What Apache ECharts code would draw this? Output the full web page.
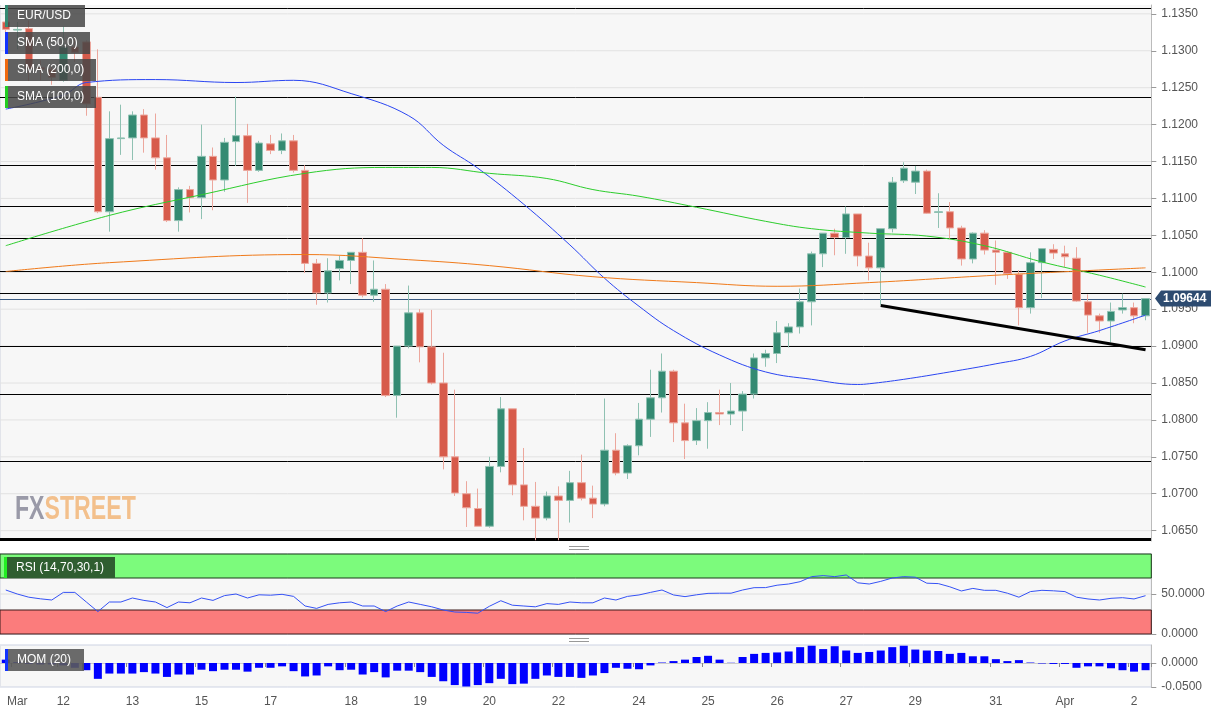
<!DOCTYPE html>
<html><head><meta charset="utf-8">
<script src="https://cdn.jsdelivr.net/npm/echarts@6/dist/echarts.min.js"></script>
<style>html,body{margin:0;padding:0;background:#fff}#c{width:1229px;height:714px}</style>
</head><body><div id="c"></div>
<script>
const opens = [1.1339,1.1328,1.1330,1.1277,1.1275,1.1260,1.1305,1.1312,1.1237,1.1082,1.1181,1.1182,1.1213,1.1182,1.1155,1.1070,1.1112,1.1101,1.1157,1.1125,1.1177,1.1185,1.1138,1.1174,1.1165,1.1178,1.1138,1.1012,1.0972,1.1005,1.1016,1.1027,1.0969,1.0977,1.0833,1.0900,1.0945,1.0899,1.0850,1.0750,1.0700,1.0680,1.0656,1.0737,1.0815,1.0712,1.0683,1.0667,1.0697,1.0691,1.0715,1.0694,1.0686,1.0759,1.0728,1.0765,1.0801,1.0830,1.0866,1.0796,1.0772,1.0799,1.0810,1.0808,1.0812,1.0835,1.0884,1.0890,1.0918,1.0926,1.0960,1.1025,1.1053,1.1047,1.1079,1.1022,1.1006,1.1059,1.1124,1.1122,1.1137,1.1081,1.1082,1.1060,1.1018,1.1053,1.1030,1.1027,1.0997,1.0952,1.1013,1.1031,1.1025,1.1019,1.0960,1.0941,1.0934,1.0949,1.0952,1.0941];
const closes = [1.1329,1.1329,1.1276,1.1275,1.1264,1.1305,1.1298,1.1228,1.1082,1.1181,1.1182,1.1213,1.1182,1.1155,1.1070,1.1112,1.1101,1.1157,1.1125,1.1176,1.1185,1.1138,1.1175,1.1165,1.1178,1.1138,1.1012,1.0972,1.1002,1.1016,1.1027,1.0969,1.0977,1.0833,1.0900,1.0945,1.0899,1.0850,1.0750,1.0701,1.0681,1.0656,1.0737,1.0815,1.0712,1.0683,1.0667,1.0697,1.0691,1.0715,1.0694,1.0686,1.0759,1.0728,1.0765,1.0801,1.0830,1.0866,1.0796,1.0772,1.0799,1.0810,1.0808,1.0812,1.0835,1.0884,1.0890,1.0918,1.0926,1.0960,1.1025,1.1053,1.1047,1.1079,1.1022,1.1006,1.1059,1.1122,1.1141,1.1137,1.1080,1.1082,1.1060,1.1018,1.1053,1.1030,1.1027,1.0998,1.0952,1.1013,1.1032,1.1026,1.1021,1.0961,1.0942,1.0934,1.0947,1.0952,1.0941,1.09644];
const lows = [1.1318,1.1302,1.1259,1.1260,1.1254,1.1258,1.1285,1.1212,1.1080,1.1055,1.1159,1.1152,1.1162,1.1139,1.1068,1.1055,1.1081,1.1072,1.1084,1.1109,1.1144,1.1094,1.1136,1.1160,1.1160,1.1135,1.0999,1.0956,1.0959,1.0989,1.0984,1.0966,1.0960,1.0831,1.0803,1.0897,1.0878,1.0848,1.0733,1.0697,1.0655,1.0656,1.0654,1.0729,1.0698,1.0664,1.0637,1.0664,1.0637,1.0661,1.0691,1.0667,1.0683,1.0725,1.0720,1.0752,1.0777,1.0810,1.0770,1.0747,1.0766,1.0761,1.0793,1.0793,1.0785,1.0829,1.0872,1.0877,1.0898,1.0917,1.0928,1.1007,1.1023,1.1025,1.1008,1.0989,1.0956,1.1054,1.1121,1.1106,1.1079,1.1060,1.1045,1.1009,1.1012,1.1024,1.0983,1.0991,1.0928,1.0944,1.0965,1.1018,1.1007,1.0960,1.0918,1.0918,1.0905,1.0944,1.0931,1.0935];
const highs = [1.1351,1.1339,1.1341,1.1287,1.1279,1.1333,1.1320,1.1314,1.1302,1.1218,1.1227,1.1218,1.1221,1.1215,1.1186,1.1115,1.1117,1.1200,1.1169,1.1182,1.1238,1.1201,1.1178,1.1186,1.1188,1.1186,1.1145,1.1018,1.1019,1.1022,1.1027,1.1046,1.1016,1.0984,1.0900,1.0982,1.0950,1.0949,1.0891,1.0841,1.0717,1.0707,1.0750,1.0831,1.0815,1.0762,1.0716,1.0703,1.0710,1.0731,1.0753,1.0711,1.0829,1.0782,1.0767,1.0823,1.0868,1.0890,1.0868,1.0822,1.0816,1.0824,1.0841,1.0850,1.0839,1.0890,1.0895,1.0934,1.0931,1.0978,1.1028,1.1053,1.1059,1.1089,1.1079,1.1040,1.1059,1.1129,1.1149,1.1144,1.1139,1.1107,1.1095,1.1063,1.1054,1.1057,1.1043,1.1028,1.1003,1.1027,1.1032,1.1038,1.1036,1.1034,1.0970,1.0944,1.0959,1.0971,1.0959,1.0965];

const sma50Pts = [[0,1.1221],[5,1.1240],[7,1.1257],[13,1.1261],[20,1.1257],[25,1.1260],[30,1.1242],[35,1.1212],[38,1.1172],[41,1.1141],[45,1.1092],[49,1.1037],[52,1.0992],[55,1.0954],[58,1.0921],[62,1.0888],[66,1.0865],[70,1.0855],[74,1.0848],[75,1.0849],[78,1.0855],[82,1.0865],[86,1.0876],[89,1.0886],[92,1.0907],[95,1.0921],[99,1.0942]];
const sma100Pts = [[0,1.1036],[9,1.1077],[17,1.1105],[26,1.1134],[33,1.1142],[37,1.1142],[42,1.1134],[47,1.1127],[51,1.1112],[55,1.1103],[60,1.1088],[66,1.1069],[70,1.1059],[75,1.1053],[80,1.1049],[85,1.1036],[90,1.1014],[95,1.0996],[99,1.0980]];
const sma200Pts = [[0,1.1001],[9,1.1013],[26,1.1024],[35,1.1017],[42,1.1009],[51,1.0994],[60,1.0986],[67,1.0981],[75,1.0986],[86,1.0996],[99,1.1006]];
const trendPts = [[76,1.0955],[99,1.0895]];
const levels = [1.1358,1.1237,1.1145,1.1090,1.1047,1.1002,1.0972,1.0900,1.0835,1.0745];
const bottomLevel = 1.0638;
const lastPrice = 1.09644;
const priceTicks = [1.065,1.070,1.075,1.080,1.085,1.090,1.095,1.100,1.105,1.110,1.115,1.120,1.125,1.130,1.135];

const rsi = [55,50,46,44,42.5,52,52,40,28,40,40,45,42,40,33,40,39,45,42,48,50,45,49,48.5,49.6,47,35,32,37,39,40,35,35,28,35,40,37,34,30,27.5,27,26,34.6,41.6,36,35,34,38,37,40,39,39,45,42.5,47,48.8,52,55,48.8,46.7,49,50.8,51,51,55,57.9,58,61,62.5,65.4,71.7,73,71.7,73.8,64,62.5,65.8,70,71.7,71,63.5,63,59,53.8,57,54.6,54.6,51,46,53,54.6,54,53,46,43.8,42.5,44.6,45.4,43.8,47.9];
const mom = [0.007,0.002,-0.002,-0.003,-0.003,-0.005,-0.010,-0.015,-0.033,-0.022,-0.022,-0.022,-0.019,-0.022,-0.029,-0.024,-0.024,-0.014,-0.017,-0.014,-0.014,-0.018,-0.010,-0.010,-0.007,-0.017,-0.028,-0.026,-0.007,-0.015,-0.014,-0.024,-0.019,-0.030,-0.016,-0.016,-0.019,-0.029,-0.038,-0.046,-0.049,-0.046,-0.042,-0.033,-0.044,-0.043,-0.033,-0.026,-0.029,-0.029,-0.031,-0.026,-0.021,-0.010,-0.012,-0.013,-0.005,0.001,0.004,0.007,0.0125,0.015,0.007,0.0005,0.0125,0.019,0.021,0.022,0.024,0.033,0.036,0.029,0.035,0.026,0.021,0.023,0.026,0.033,0.036,0.028,0.026,0.025,0.019,0.021,0.014,0.014,0.008,0.004,0.006,0.001,-0.001,-0.002,-0.002,-0.010,-0.007,-0.007,-0.011,-0.015,-0.018,-0.015];
const dayLabels = {1:'Mar',5:'12',11:'13',17:'15',23:'17',30:'18',36:'19',42:'20',48:'22',55:'24',61:'25',67:'26',73:'27',79:'29',86:'31',92:'Apr',98:'2'};

const N = opens.length;
const cats = Array.from({length:N},(_,i)=>dayLabels[i]||'');
const candles = opens.map((o,i)=>[o,closes[i],lows[i],highs[i]]);
function pts(arr){const d=new Array(N).fill(null);arr.forEach(p=>d[p[0]]=p[1]);return d;}
const F='Liberation Sans, Arial, sans-serif';
const gx = {left:-5.7,width:1157};
const lbl = {color:'#555',fontSize:12,fontFamily:F};
const chart = echarts.init(document.getElementById('c'));
chart.setOption({
  animation:false,
  grid:[
    Object.assign({top:5,height:536,show:true,backgroundColor:'#f7f7f7',borderWidth:0},gx),
    Object.assign({top:554,height:80,show:true,backgroundColor:'#f7f7f7',borderColor:'#cdd3e3',borderWidth:1},gx),
    Object.assign({top:645,height:42,show:true,backgroundColor:'#f7f7f7',borderColor:'#cdd3e3',borderWidth:1},gx)
  ],
  xAxis:[0,1,2].map(g=>({type:'category',gridIndex:g,data:cats,boundaryGap:true,
    axisLine:{show:g===2,lineStyle:{color:'#ccc'}},
    axisTick:{show:g===2,interval:(i,v)=>v!=='',length:4,lineStyle:{color:'#888'}},
    axisLabel:{show:g===2,interval:(i,v)=>v!=='',margin:9,...lbl},
    splitLine:{show:true,interval:(i,v)=>v==='Apr',lineStyle:{color:'#e2e4ea'}}})),
  yAxis:[
    {type:'value',gridIndex:0,position:'right',min:1.0636,max:1.1362,
     axisLine:{show:true,lineStyle:{color:'#bbb'}},axisTick:{show:true,length:5,customValues:priceTicks,lineStyle:{color:'#999'}},
     axisLabel:{customValues:priceTicks,formatter:v=>v.toFixed(4),margin:10,...lbl},splitLine:{show:false}},
    {type:'value',gridIndex:1,position:'right',min:0,max:100,
     axisLine:{show:true,lineStyle:{color:'#bbb'}},axisTick:{show:true,length:5,customValues:[0,50],lineStyle:{color:'#999'}},
     axisLabel:{customValues:[0,50],formatter:v=>v.toFixed(4),margin:10,...lbl},splitLine:{show:false}},
    {type:'value',gridIndex:2,position:'right',min:-0.05,max:0.0375,
     axisLine:{show:true,lineStyle:{color:'#bbb'}},axisTick:{show:true,length:5,customValues:[-0.05,0],lineStyle:{color:'#999'}},
     axisLabel:{customValues:[-0.05,0],formatter:v=>v.toFixed(4),margin:10,...lbl},splitLine:{show:false}}
  ],
  series:[
    {type:'candlestick',xAxisIndex:0,yAxisIndex:0,data:candles,barWidth:8,z:5,
     itemStyle:{color:'#348a72',color0:'#d75b4b',borderColor:'#8fc1b2',borderColor0:'#eca79d',borderWidth:1}},
    {type:'line',xAxisIndex:0,yAxisIndex:0,data:pts(sma50Pts),connectNulls:true,smooth:0.4,symbol:'none',lineStyle:{color:'#2b46f2',width:1},z:6},
    {type:'line',xAxisIndex:0,yAxisIndex:0,data:pts(sma100Pts),connectNulls:true,smooth:0.4,symbol:'none',lineStyle:{color:'#2ccd2c',width:1},z:6},
    {type:'line',xAxisIndex:0,yAxisIndex:0,data:pts(sma200Pts),connectNulls:true,smooth:0.4,symbol:'none',lineStyle:{color:'#f07a1a',width:1},z:6},
    {type:'line',xAxisIndex:0,yAxisIndex:0,data:pts(trendPts),connectNulls:true,symbol:'none',lineStyle:{color:'#000',width:3},z:7},
    {type:'line',xAxisIndex:1,yAxisIndex:1,data:rsi,symbol:'none',lineStyle:{color:'#3552f5',width:1},z:5,
     markArea:{silent:true,data:[
       [{yAxis:70,itemStyle:{color:'#7cfb7c',borderColor:'#1a3a1a',borderWidth:1}},{yAxis:100}],
       [{yAxis:0,itemStyle:{color:'#fb7c7c',borderColor:'#3a1a1a',borderWidth:1}},{yAxis:30}]]}},
    {type:'bar',xAxisIndex:2,yAxisIndex:2,data:mom,barWidth:8,itemStyle:{color:'#0000ff'}}
  ]
});
const L=0, R=1151;
const g=[];
const yp=(v,ax)=>chart.convertToPixel({yAxisIndex:ax},v);
priceTicks.forEach(v=>g.push({type:'line',z:1,silent:true,shape:{x1:L,y1:yp(v,0),x2:R,y2:yp(v,0)},style:{stroke:'#e2e2e2',lineWidth:1}}));
g.push({type:'line',z:1,silent:true,shape:{x1:L,y1:yp(50,1),x2:R,y2:yp(50,1)},style:{stroke:'#dedede',lineWidth:1}});
levels.forEach(v=>g.push({type:'line',z:2,silent:true,shape:{x1:L,y1:Math.round(yp(v,0))+0.5,x2:R,y2:Math.round(yp(v,0))+0.5},style:{stroke:'#000',lineWidth:1}}));
g.push({type:'line',z:2,silent:true,shape:{x1:L,y1:yp(bottomLevel,0),x2:R,y2:yp(bottomLevel,0)},style:{stroke:'#000',lineWidth:3}});
g.push({type:'line',z:2,silent:true,shape:{x1:L,y1:Math.round(yp(lastPrice,0))+0.5,x2:R,y2:Math.round(yp(lastPrice,0))+0.5},style:{stroke:'#3b5b82',lineWidth:1}});
const ty=yp(lastPrice,0);
const box=(x,y,w,h,fill,strip,text)=>[
  {type:'rect',z:20,shape:{x,y,width:w,height:h},style:{fill}},
  {type:'rect',z:21,shape:{x,y,width:3,height:h},style:{fill:strip}},
  {type:'text',z:22,x:x+12,y:y+5,style:{text,fill:'#fff',font:'12px '+F}}];
g.push(...box(5,5,80,22,'rgba(70,70,70,0.85)','#348a72','EUR/USD'));
g.push(...box(5,32,85,22,'rgba(70,70,70,0.85)','#1133ff','SMA (50,0)'));
g.push(...box(5,59,91,22,'rgba(70,70,70,0.85)','#f06a10','SMA (200,0)'));
g.push(...box(5,86,91,22,'rgba(70,70,70,0.85)','#22cc22','SMA (100,0)'));
g.push(...box(4,557,111,21,'#2f5e30','#22ee22','RSI (14,70,30,1)'));
g.push(...box(5,649,79,22,'rgba(90,90,90,0.9)','#1133ff','MOM (20)'));
g.push({type:'text',z:20,x:15,y:493,scaleX:0.68,style:{text:'{a|FX}{b|STREET}',rich:{a:{fill:'#9a9aa8',font:'bold 34px "Liberation Sans", sans-serif'},b:{fill:'#f3c08c',font:'bold 34px "Liberation Sans", sans-serif'}}}});
g.push({type:'polygon',z:20,shape:{points:[[1155,ty],[1161,ty-8],[1211,ty-8],[1211,ty+8],[1161,ty+8]]},style:{fill:'#2d4b70'}});
g.push({type:'text',z:21,x:1163,y:ty-6,style:{text:'1.09644',fill:'#fff',font:'bold 12px '+F}});
[546,549,638,641].forEach(y=>g.push({type:'rect',z:20,shape:{x:569,y,width:20,height:1},style:{fill:'#999'}}));
chart.setOption({graphic:g});
</script></body></html>
